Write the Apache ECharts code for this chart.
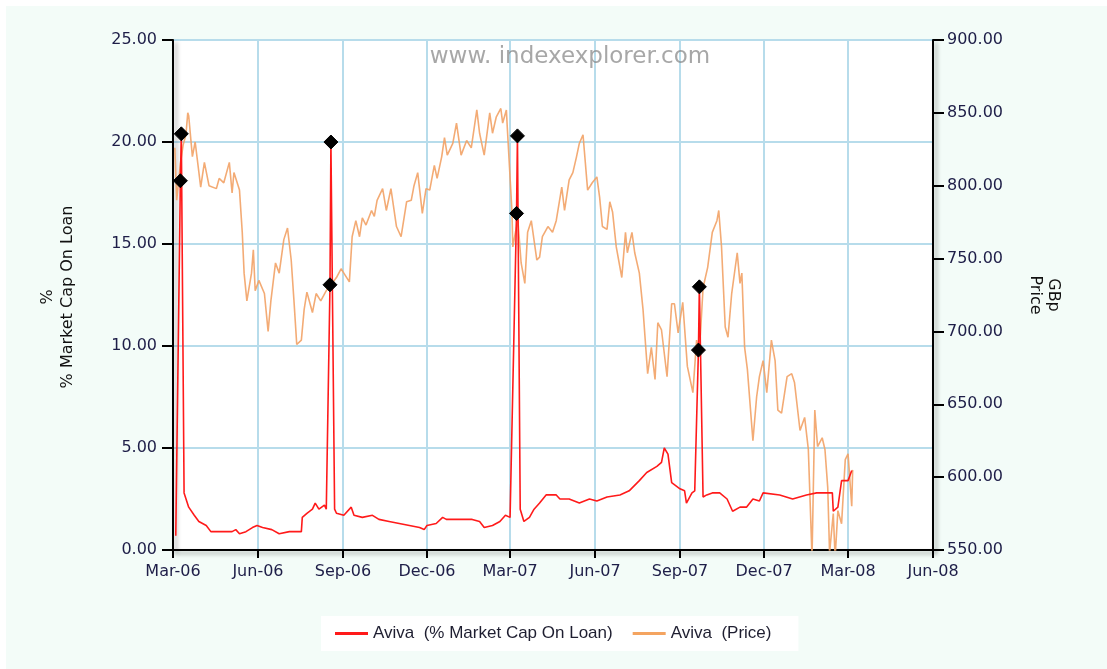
<!DOCTYPE html>
<html>
<head>
<meta charset="utf-8">
<title>Aviva - % Market Cap On Loan vs Price</title>
<script src="https://cdn.jsdelivr.net/npm/echarts@6/dist/echarts.min.js"></script>
<style>
  html, body { margin: 0; padding: 0; background: #fff; }
  #chart { position: absolute; left: 6px; top: 6px; width: 1101px; height: 663px; }
</style>
</head>
<body>
<div id="chart"></div>
<script>
// x axis ticks (quarterly)
const tickDates = ['2006-03-01', '2006-06-01', '2006-09-01', '2006-12-01', '2007-03-01',
  '2007-06-01', '2007-09-01', '2007-12-01', '2008-03-01', '2008-06-01'];
const monthNames = ['Jan', 'Feb', 'Mar', 'Apr', 'May', 'Jun', 'Jul', 'Aug', 'Sep', 'Oct', 'Nov', 'Dec'];

// Aviva (% Market Cap On Loan) - left axis
const loanDates = ['2006-03-04', '2006-03-09', '2006-03-10', '2006-03-13', '2006-03-18', '2006-03-24',
  '2006-03-29', '2006-04-06', '2006-04-11', '2006-04-20', '2006-05-04', '2006-05-08', '2006-05-12',
  '2006-05-19', '2006-05-26', '2006-05-31', '2006-06-06', '2006-06-16', '2006-06-24', '2006-07-05',
  '2006-07-18', '2006-07-19', '2006-07-24', '2006-07-30', '2006-08-02', '2006-08-06', '2006-08-12',
  '2006-08-14', '2006-08-18', '2006-08-19', '2006-08-23', '2006-08-25', '2006-09-02', '2006-09-10',
  '2006-09-13', '2006-09-22', '2006-10-03', '2006-10-10', '2006-10-21', '2006-11-01', '2006-11-12',
  '2006-11-23', '2006-11-28', '2006-12-01', '2006-12-11', '2006-12-18', '2006-12-22', '2007-01-05',
  '2007-01-19', '2007-01-27', '2007-02-01', '2007-02-10', '2007-02-18', '2007-02-24', '2007-03-01',
  '2007-03-08', '2007-03-09', '2007-03-12', '2007-03-16', '2007-03-22', '2007-03-27', '2007-04-02',
  '2007-04-09', '2007-04-20', '2007-04-24', '2007-05-04', '2007-05-15', '2007-05-26', '2007-06-03',
  '2007-06-14', '2007-06-28', '2007-07-08', '2007-07-19', '2007-07-27', '2007-08-07', '2007-08-12',
  '2007-08-15', '2007-08-19', '2007-08-23', '2007-09-01', '2007-09-06', '2007-09-08', '2007-09-14',
  '2007-09-17', '2007-09-21', '2007-09-22', '2007-09-26', '2007-09-30', '2007-10-06', '2007-10-14',
  '2007-10-22', '2007-10-28', '2007-11-05', '2007-11-12', '2007-11-19', '2007-11-26', '2007-11-30',
  '2007-12-18', '2008-01-01', '2008-01-16', '2008-01-27', '2008-02-13', '2008-02-14', '2008-02-19',
  '2008-02-23', '2008-03-01', '2008-03-05'];
const loanValues = [0.7, 18.1, 20.4, 2.8, 2.1, 1.7,
  1.4, 1.2, 0.9, 0.9, 0.9, 1.0, 0.8,
  0.9, 1.1, 1.2, 1.1, 1.0, 0.8, 0.9,
  0.9, 1.6, 1.8, 2.0, 2.3, 2.0, 2.2,
  2.0, 13.0, 20.0, 2.0, 1.8, 1.7, 2.1,
  1.7, 1.6, 1.7, 1.5, 1.4, 1.3, 1.2,
  1.1, 1.0, 1.2, 1.3, 1.6, 1.5, 1.5,
  1.5, 1.4, 1.1, 1.2, 1.4, 1.7, 1.6,
  16.5, 20.3, 2.0, 1.4, 1.6, 2.0, 2.3,
  2.7, 2.7, 2.5, 2.5, 2.3, 2.5, 2.4,
  2.6, 2.7, 2.9, 3.4, 3.8, 4.1, 4.3,
  5.0, 4.7, 3.3, 3.0, 2.9, 2.3, 2.8,
  2.9, 9.8, 12.9, 2.6, 2.7, 2.8, 2.8,
  2.5, 1.9, 2.1, 2.1, 2.5, 2.4, 2.8,
  2.7, 2.5, 2.7, 2.8, 2.8, 1.9, 2.1,
  3.4, 3.4, 3.9];

// Aviva (Price) in GBp - right axis
const priceDates = ['2006-03-03', '2006-03-05', '2006-03-09', '2006-03-12', '2006-03-15', '2006-03-17',
  '2006-03-18', '2006-03-22', '2006-03-25', '2006-03-31', '2006-04-04', '2006-04-09', '2006-04-17',
  '2006-04-20', '2006-04-25', '2006-05-01', '2006-05-04', '2006-05-06', '2006-05-12', '2006-05-15',
  '2006-05-17', '2006-05-20', '2006-05-25', '2006-05-27', '2006-05-29', '2006-06-02', '2006-06-08',
  '2006-06-12', '2006-06-15', '2006-06-20', '2006-06-24', '2006-06-29', '2006-07-03', '2006-07-07',
  '2006-07-10', '2006-07-13', '2006-07-18', '2006-07-21', '2006-07-24', '2006-07-30', '2006-08-03',
  '2006-08-08', '2006-08-14', '2006-08-19', '2006-08-25', '2006-08-30', '2006-09-02', '2006-09-08',
  '2006-09-11', '2006-09-15', '2006-09-19', '2006-09-22', '2006-09-26', '2006-10-02', '2006-10-05',
  '2006-10-08', '2006-10-14', '2006-10-18', '2006-10-23', '2006-10-29', '2006-11-03', '2006-11-09',
  '2006-11-14', '2006-11-17', '2006-11-21', '2006-11-26', '2006-11-30', '2006-12-04', '2006-12-09',
  '2006-12-12', '2006-12-17', '2006-12-20', '2006-12-23', '2006-12-29', '2007-01-02', '2007-01-07',
  '2007-01-13', '2007-01-18', '2007-01-24', '2007-01-27', '2007-02-01', '2007-02-07', '2007-02-10',
  '2007-02-14', '2007-02-19', '2007-02-21', '2007-02-25', '2007-02-26', '2007-03-03', '2007-03-04',
  '2007-03-08', '2007-03-09', '2007-03-13', '2007-03-17', '2007-03-20', '2007-03-24', '2007-03-30',
  '2007-04-02', '2007-04-05', '2007-04-11', '2007-04-16', '2007-04-20', '2007-04-26', '2007-04-29',
  '2007-05-04', '2007-05-08', '2007-05-12', '2007-05-15', '2007-05-19', '2007-05-24', '2007-05-29',
  '2007-06-03', '2007-06-06', '2007-06-09', '2007-06-14', '2007-06-17', '2007-06-20', '2007-06-24',
  '2007-06-30', '2007-07-04', '2007-07-06', '2007-07-11', '2007-07-14', '2007-07-19', '2007-07-23',
  '2007-07-28', '2007-08-01', '2007-08-05', '2007-08-08', '2007-08-12', '2007-08-18', '2007-08-23',
  '2007-08-26', '2007-08-30', '2007-09-04', '2007-09-09', '2007-09-15', '2007-09-19', '2007-09-22',
  '2007-09-26', '2007-10-01', '2007-10-06', '2007-10-11', '2007-10-13', '2007-10-16', '2007-10-20',
  '2007-10-23', '2007-10-27', '2007-11-02', '2007-11-05', '2007-11-07', '2007-11-10', '2007-11-13',
  '2007-11-19', '2007-11-23', '2007-11-26', '2007-11-30', '2007-12-04', '2007-12-09', '2007-12-13',
  '2007-12-16', '2007-12-20', '2007-12-26', '2007-12-31', '2008-01-03', '2008-01-09', '2008-01-14',
  '2008-01-18', '2008-01-22', '2008-01-25', '2008-01-28', '2008-02-02', '2008-02-05', '2008-02-08',
  '2008-02-10', '2008-02-14', '2008-02-16', '2008-02-19', '2008-02-23', '2008-02-27', '2008-03-01',
  '2008-03-05', '2008-03-06'];
const priceValues = [826, 790, 815, 828, 835, 850,
  848, 820, 830, 799, 816, 800, 798,
  805, 802, 816, 795, 809, 797, 768,
  740, 721, 740, 756, 728, 735, 726,
  700, 721, 747, 740, 763, 771, 749,
  721, 691, 694, 715, 727, 713, 726,
  721, 728, 732, 737, 743, 740, 734,
  765, 776, 765, 778, 773, 783, 779,
  790, 798, 783, 798, 772, 765, 789,
  790, 800, 809, 781, 798, 797, 814,
  805, 820, 833, 821, 829, 843, 821,
  831, 826, 852, 836, 821, 850, 836,
  847, 853, 843, 852, 840, 783, 758,
  772, 780, 747, 733, 768, 776, 749,
  751, 765, 772, 768, 776, 799, 783,
  804, 809, 820, 829, 835, 797, 802,
  806, 792, 772, 770, 789, 782, 758,
  737, 768, 754, 768, 754, 740, 715,
  671, 689, 667, 706, 701, 669, 719,
  719, 699, 720, 676, 658, 694, 685,
  730, 744, 768, 776, 783, 758, 703,
  696, 726, 754, 733, 740, 689, 674,
  625, 655, 669, 680, 658, 694, 680,
  646, 644, 669, 671, 665, 632, 641,
  619, 545, 646, 621, 627, 619, 593,
  548, 575, 545, 577, 568, 612, 616,
  580, 605];

const loanSeriesName = 'Aviva  (% Market Cap On Loan)';
const priceSeriesName = 'Aviva  (Price)';

const labelColor = '#1e1e48';
const axisFont = 'DejaVu Sans, Verdana, sans-serif';

// dates as UTC timestamps on a plain value axis
const ts = d => new Date(d + 'T00:00:00Z').getTime();
const tickValues = tickDates.map(ts);

const loanData = loanDates.map(function (d, i) {
  const item = { value: [ts(d), loanValues[i]] };
  // the spike days carry a black diamond flag
  if (loanValues[i] >= 9) {
    item.symbol = 'diamond';
    item.symbolSize = 14;
    item.itemStyle = { color: '#000', borderColor: '#000' };
  }
  return item;
});
const priceData = priceDates.map((d, i) => [ts(d), priceValues[i]]);

const axisLineStyle = {
  color: '#000',
  width: 2,
  shadowColor: 'rgba(0,0,0,0.35)',
  shadowBlur: 4,
  shadowOffsetX: 3,
  shadowOffsetY: 3
};

const chart = echarts.init(document.getElementById('chart'));

const option = {
  backgroundColor: '#f3fcf8',
  animation: false,
  grid: {
    left: 167,
    right: 174,
    top: 34,
    bottom: 119,
    show: true,
    backgroundColor: '#fff',
    borderWidth: 0
  },
  legend: {
    left: 315,
    top: 610,
    padding: [9, 27, 9, 14],
    backgroundColor: '#fff',
    itemWidth: 33,
    itemHeight: 3,
    itemGap: 20,
    icon: 'rect',
    textStyle: { fontFamily: 'Liberation Sans, Arial, sans-serif', fontSize: 17, color: '#1e1e30' },
    data: [loanSeriesName, priceSeriesName]
  },
  xAxis: {
    type: 'value',
    min: tickValues[0],
    max: tickValues[tickValues.length - 1],
    axisLine: { show: true, onZero: false, lineStyle: axisLineStyle },
    axisTick: { show: true, length: 8, customValues: tickValues, lineStyle: { color: '#000', width: 2 } },
    axisLabel: {
      customValues: tickValues,
      margin: 14,
      color: labelColor,
      fontFamily: axisFont,
      fontSize: 16,
      formatter: function (val) {
        const d = new Date(val);
        return monthNames[d.getUTCMonth()] + '-' + String(d.getUTCFullYear()).slice(2);
      }
    },
    splitLine: { show: true, lineStyle: { color: '#b7dceb', width: 2 } }
  },
  yAxis: [
    {
      type: 'value',
      position: 'left',
      min: 0,
      max: 25,
      interval: 5,
      axisLine: { show: true, onZero: false, lineStyle: axisLineStyle },
      axisTick: { show: true, length: 11, lineStyle: { color: '#000', width: 2 } },
      axisLabel: {
        margin: 16,
        color: labelColor,
        fontFamily: axisFont,
        fontSize: 16,
        formatter: v => v.toFixed(2)
      },
      splitLine: { show: true, lineStyle: { color: '#b7dceb', width: 2 } }
    },
    {
      type: 'value',
      position: 'right',
      min: 550,
      max: 900,
      interval: 50,
      axisLine: { show: true, onZero: false, lineStyle: axisLineStyle },
      axisTick: { show: true, length: 11, lineStyle: { color: '#000', width: 2 } },
      axisLabel: {
        margin: 14,
        color: labelColor,
        fontFamily: axisFont,
        fontSize: 16,
        formatter: v => v.toFixed(2)
      },
      splitLine: { show: false }
    }
  ],
  graphic: [
    {
      type: 'text',
      x: 564,
      y: 51,
      z: 100,
      silent: true,
      style: {
        text: 'www. indexexplorer.com',
        fill: 'rgba(130,130,130,0.7)',
        font: '23px "DejaVu Sans", sans-serif',
        align: 'center',
        verticalAlign: 'middle'
      }
    },
    {
      type: 'text',
      x: 52,
      y: 291,
      rotation: Math.PI / 2,
      style: {
        text: '%\n% Market Cap On Loan',
        fill: '#111',
        font: '16px "DejaVu Sans", sans-serif',
        lineHeight: 20,
        align: 'center',
        verticalAlign: 'middle'
      }
    },
    {
      type: 'text',
      x: 1038,
      y: 289,
      rotation: -Math.PI / 2,
      style: {
        text: 'GBp\nPrice',
        fill: '#111',
        font: '16px "DejaVu Sans", sans-serif',
        lineHeight: 18,
        align: 'center',
        verticalAlign: 'middle'
      }
    }
  ],
  series: [
    {
      name: loanSeriesName,
      type: 'line',
      yAxisIndex: 0,
      z: 4,
      data: loanData,
      symbol: 'none',
      showSymbol: true,
      showAllSymbol: true,
      color: '#ff1a1a',
      lineStyle: { color: '#ff1a1a', width: 1.6 },
      emphasis: { disabled: true }
    },
    {
      name: priceSeriesName,
      type: 'line',
      yAxisIndex: 1,
      z: 2,
      data: priceData,
      showSymbol: false,
      color: '#f4a460',
      lineStyle: { color: '#f2a266', width: 1.6, opacity: 0.9 },
      emphasis: { disabled: true }
    }
  ]
};

chart.setOption(option);
</script>
</body>
</html>
